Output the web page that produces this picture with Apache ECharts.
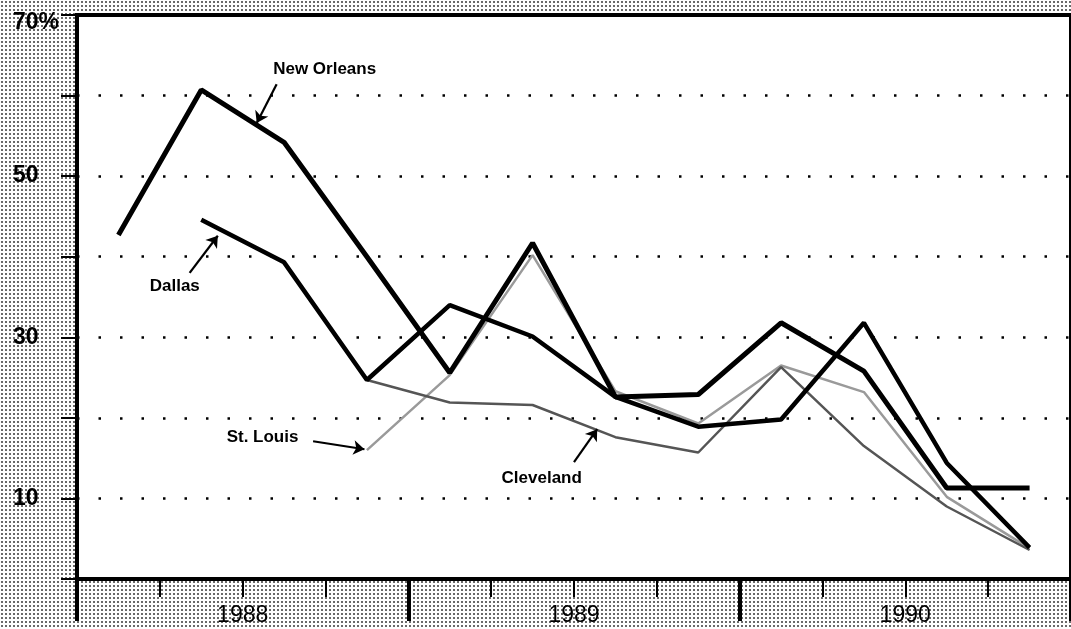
<!DOCTYPE html>
<html><head><meta charset="utf-8">
<script src="https://cdn.jsdelivr.net/npm/echarts@6/dist/echarts.min.js"></script>
<style>
html,body{margin:0;padding:0;background:#fff;}
#c{width:1071px;height:629px;background-color:#fff;background-image:radial-gradient(circle,#666 0.7px,transparent 1.1px);background-size:4px 4px;}
</style></head><body><div id="c"></div>
<script>
// ---- data ----
const quarters = ['1988 Q1','1988 Q2','1988 Q3','1988 Q4','1989 Q1','1989 Q2','1989 Q3','1989 Q4','1990 Q1','1990 Q2','1990 Q3','1990 Q4'];
const years = ['1988','1989','1990'];
const newOrleans = [42.7, 60.7, 54.2, 40.0, 25.6, 41.7, 22.6, 22.9, 31.8, 25.8, 11.3, 11.3];
const dallas     = ['-', 44.6, 39.3, 24.7, 34.0, 30.1, 22.6, 18.9, 19.8, 31.8, 14.4, 3.9];
const stLouis    = ['-', '-', '-', 16.0, 25.3, 40.2, 23.3, 19.3, 26.5, 23.2, 10.2, 3.8];
const cleveland  = ['-', '-', '-', 24.7, 21.9, 21.6, 17.6, 15.7, 26.3, 16.5, 9.0, 3.6];
const yLabels = {10: '10', 30: '30', 50: '50', 70: '{t|70%}'};
// annotation positions in data units (x in quarters from left edge, y in %)
const noteLabels = [['New Orleans', 2.99, 63.2], ['Dallas', 1.18, 36.3], ['St. Louis', 2.24, 17.6], ['Cleveland', 5.61, 12.5]];
const noteArrows = [
  [[2.41, 61.4], [2.17, 56.6]],
  [[1.36, 38.0], [1.70, 42.6]],
  [[2.85, 17.1], [3.47, 16.1]],
  [[6.00, 14.5], [6.28, 18.6]]
];

const chart = echarts.init(document.getElementById('c'), null, {renderer: 'canvas'});
const font = 'Liberation Sans, Arial, Helvetica, sans-serif';
chart.setOption({
  animation: false,
  backgroundColor: 'transparent',
  grid: {left: 77, top: 15, right: -7, bottom: 50, show: true, backgroundColor: '#fff', borderColor: '#000', borderWidth: 4},
  xAxis: [
    {type: 'category', data: quarters, position: 'bottom', boundaryGap: true,
     axisLine: {lineStyle: {color: '#000', width: 4}},
     axisTick: {show: true, interval: 0, length: 18, lineStyle: {color: '#000', width: 2}},
     axisLabel: {show: false}, splitLine: {show: false}},
    {type: 'category', data: years, position: 'bottom', boundaryGap: true,
     axisLine: {show: false},
     axisTick: {show: true, interval: 0, length: 42, lineStyle: {color: '#000', width: 4}},
     axisLabel: {show: true, interval: 0, fontSize: 23, color: '#000', margin: 25, fontFamily: font}},
    {type: 'value', min: 0, max: 12, show: false, position: 'top'}
  ],
  yAxis: {type: 'value', min: 0, max: 70, interval: 10,
    axisLine: {show: true, lineStyle: {color: '#000', width: 4}},
    axisTick: {show: true, length: 16, lineStyle: {color: '#000', width: 2}},
    axisLabel: {formatter: v => yLabels[v] || '', fontSize: 23, fontWeight: 'bold', color: '#000', align: 'left', margin: 64, fontFamily: font,
      rich: {t: {fontSize: 23, fontWeight: 'bold', color: '#000', fontFamily: font, padding: [16, 0, 0, 0]}}},
    splitLine: {show: true, lineStyle: {color: '#000', width: 2.5, type: [2.5, 19]}}
  },
  series: [
    {name: 'St. Louis', type: 'line', data: stLouis, symbol: 'none', lineStyle: {color: '#9a9a9a', width: 2.5}, z: 2},
    {name: 'Cleveland', type: 'line', data: cleveland, symbol: 'none', lineStyle: {color: '#555', width: 2.5}, z: 2},
    {name: 'Dallas', type: 'line', data: dallas, symbol: 'none', lineStyle: {color: '#000', width: 4.5}, z: 3},
    {name: 'New Orleans', type: 'line', data: newOrleans, symbol: 'none', lineStyle: {color: '#000', width: 5}, z: 4},
    {type: 'lines', coordinateSystem: 'cartesian2d', xAxisIndex: 2, yAxisIndex: 0, z: 5,
     symbol: ['none', 'arrow'], symbolSize: 11,
     lineStyle: {color: '#000', width: 2.2, opacity: 1, curveness: 0},
     data: noteArrows.map(a => ({coords: a}))},
    {type: 'scatter', xAxisIndex: 2, yAxisIndex: 0, symbolSize: 0, z: 6,
     itemStyle: {opacity: 1, color: '#000'},
     data: noteLabels.map(n => ({name: n[0], value: [n[1], n[2]]})),
     label: {show: true, position: 'inside', formatter: p => p.name, fontSize: 17, fontWeight: 'bold', color: '#000', opacity: 1,
       textBorderWidth: 0, fontFamily: font}}
  ]
});
</script></body></html>
